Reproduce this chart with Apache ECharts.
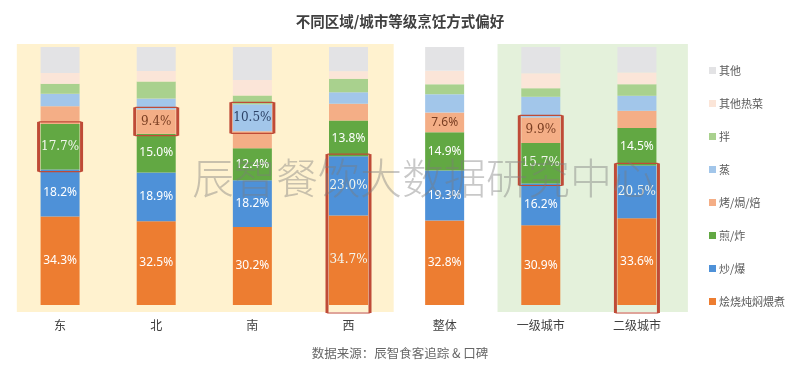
<!DOCTYPE html>
<html>
<head>
<meta charset="utf-8">
<script src="https://cdn.jsdelivr.net/npm/echarts@6/dist/echarts.min.js"></script>
<style>
html,body{margin:0;padding:0;background:#fff;}
#main{width:800px;height:371px;}
</style>
</head>
<body>
<div id="main"></div>
<script>
// ---- data ----
const categories = ['东', '北', '南', '西', '整体', '一级城市', '二级城市'];
const seriesNames = ['烩烧炖焖煨煮', '炒/爆', '煎/炸', '烤/焗/焙', '蒸', '拌', '其他热菜', '其他'];
const vHui   = [34.3, 32.5, 30.2, 34.7, 32.8, 30.9, 33.6];
const vChao  = [18.2, 18.9, 18.2, 23.0, 19.3, 16.2, 20.5];
const vJian  = [17.7, 15.0, 12.4, 13.8, 14.9, 15.7, 14.5];
const vKao   = [6.8, 9.4, 6.5, 6.5, 7.6, 9.9, 6.7];
const vZheng = [4.9, 4.2, 10.5, 4.5, 7.1, 8.0, 5.8];
const vBan   = [3.9, 6.6, 3.4, 5.2, 3.9, 3.3, 4.5];
const vReCai = [4.1, 4.1, 6.0, 2.9, 5.2, 5.8, 4.5];
const vQiTa  = [10.1, 9.3, 12.8, 9.4, 9.2, 10.2, 9.9];
const values = [vHui, vChao, vJian, vKao, vZheng, vBan, vReCai, vQiTa];

// which segments carry a value label (1 = shown)
const showHui   = [1, 1, 1, 1, 1, 1, 1];
const showChao  = [1, 1, 1, 1, 1, 1, 1];
const showJian  = [1, 1, 1, 1, 1, 1, 1];
const showKao   = [0, 1, 0, 0, 1, 1, 0];
const showZheng = [0, 0, 1, 0, 0, 0, 0];
const showNone  = [0, 0, 0, 0, 0, 0, 0];
const showLabel = [showHui, showChao, showJian, showKao, showZheng, showNone, showNone, showNone];

// highlighted groups: [categoryIndex, lowSeriesIndex, highSeriesIndex, extendsBelow]
const highlights = [[0, 2, 2, 0], [1, 3, 3, 0], [2, 4, 4, 0], [3, 0, 1, 1], [5, 2, 3, 0], [6, 0, 1, 1]];
// serif-rendered labels: [categoryIndex, seriesIndex]
const serifLabels = [[0, 2], [1, 3], [2, 4], [3, 0], [3, 1], [5, 2], [5, 3], [6, 1]];

// ---- styles ----
const colors = ['#ED7D31', '#4E91D8', '#62A843', '#F4AE86', '#A2C6EA', '#A9D18E', '#FBE5D8', '#E3E3E5'];
const labelColors = ['#FFFFFF', '#FFFFFF', '#FFFFFF', '#7A3E22', '#2E4468', '#333', '#333', '#333'];

const chart = echarts.init(document.getElementById('main'), null, {renderer: 'canvas'});

function isSerif(c, s) {
  return serifLabels.some(p => p[0] === c && p[1] === s);
}

const series = seriesNames.map((name, s) => ({
  name: name,
  type: 'bar',
  stack: 'total',
  barWidth: 39,
  itemStyle: {color: colors[s]},
  emphasis: {disabled: true},
  data: values[s].map((v, c) => ({
    value: v,
    label: {
      show: !!showLabel[s][c],
      position: 'inside',
      formatter: v.toFixed(1) + '%',
      color: isSerif(c, s) && s < 3 ? '#F3F6EE' : labelColors[s],
      fontSize: 12,
      fontFamily: isSerif(c, s) ? 'DejaVu Serif' : 'Noto Sans',
      fontWeight: 'normal'
    }
  }))
}));

const option = {
  animation: false,
  backgroundColor: '#ffffff',
  title: {
    text: '不同区域/城市等级烹饪方式偏好',
    left: 'center',
    top: 9,
    textStyle: {fontSize: 14.5, fontWeight: 'bold', color: '#404040', fontFamily: 'Noto Sans CJK SC'}
  },
  legend: {
    orient: 'vertical',
    left: 704,
    top: 59,
    itemWidth: 7,
    itemHeight: 7,
    itemGap: 20,
    icon: 'rect',
    selectedMode: false,
    data: seriesNames.slice().reverse(),
    textStyle: {fontSize: 11, color: '#595959', lineHeight: 13, fontFamily: 'Noto Sans CJK SC', padding: [0, 0, 0, -2]}
  },
  grid: {left: 12, right: 115, top: 47, bottom: 66, containLabel: false},
  xAxis: {
    type: 'category',
    data: categories,
    axisLine: {show: false},
    axisTick: {show: false},
    axisLabel: {fontSize: 12, color: '#404040', margin: 14, fontFamily: 'Noto Sans CJK SC'}
  },
  yAxis: {
    type: 'value',
    min: 0,
    max: 100,
    show: false,
    splitLine: {show: false}
  },
  series: series
};
chart.setOption(option);

// ---- decorations computed from the axes ----
function px(c, v) { return chart.convertToPixel({gridIndex: 0}, [c, v]); }
const band = px(1, 0)[0] - px(0, 0)[0];
const yTop = px(0, 100)[1] - 3;
const yBot = px(0, 0)[1] + 7;
const graphics = [];
function bgRect(c0, c1, lf, rf, color) {
  const l = px(c0, 0)[0] - lf * band;
  const r = px(c1, 0)[0] + rf * band;
  graphics.push({type: 'rect', z: -10, silent: true,
    shape: {x: l, y: yTop, width: r - l, height: yBot - yTop},
    style: {fill: color}});
}
bgRect(0, 3, 0.45, 0.47, '#FFF2CF');
bgRect(5, 6, 0.45, 0.53, '#E4F1DB');

function cum(c, upto) { let s = 0; for (let i = 0; i < upto; i++) s += values[i][c]; return s; }
highlights.forEach(h => {
  const [c, lo, hi, ext] = h;
  const x = px(c, 0)[0];
  const top = px(c, cum(c, hi + 1))[1] - 2;
  const bot = px(c, cum(c, lo))[1] + (ext ? 8 : 2);
  const l = x - 39 / 2 - 2, r = x + 39 / 2 + 2;
  graphics.push({type: 'rect', z: 50, silent: true,
    shape: {x: l, y: top, width: r - l, height: bot - top, r: 1},
    style: {fill: null, stroke: '#BF4B37', lineWidth: 1.2}});
  graphics.push({type: 'line', z: 51, silent: true,
    shape: {x1: l, y1: top, x2: l, y2: bot}, style: {stroke: '#BF4B37', lineWidth: 3}});
  graphics.push({type: 'line', z: 51, silent: true,
    shape: {x1: r, y1: top, x2: r, y2: bot}, style: {stroke: '#BF4B37', lineWidth: 3}});
});

graphics.push({type: 'text', z: 100, silent: true, left: 192, top: 157,
  style: {text: '辰智餐饮大数据研究中心', fontSize: 42, fontWeight: 300,
    fontFamily: 'Noto Sans CJK SC', fill: 'rgba(125,125,125,0.42)'}});
graphics.push({type: 'text', z: 100, silent: true, left: 'center', top: 347,
  style: {text: '数据来源：辰智食客追踪 & 口碑', fontSize: 12.5,
    fontFamily: 'Noto Sans CJK SC', fill: '#666666'}});

chart.setOption({graphic: graphics});
</script>
</body>
</html>
